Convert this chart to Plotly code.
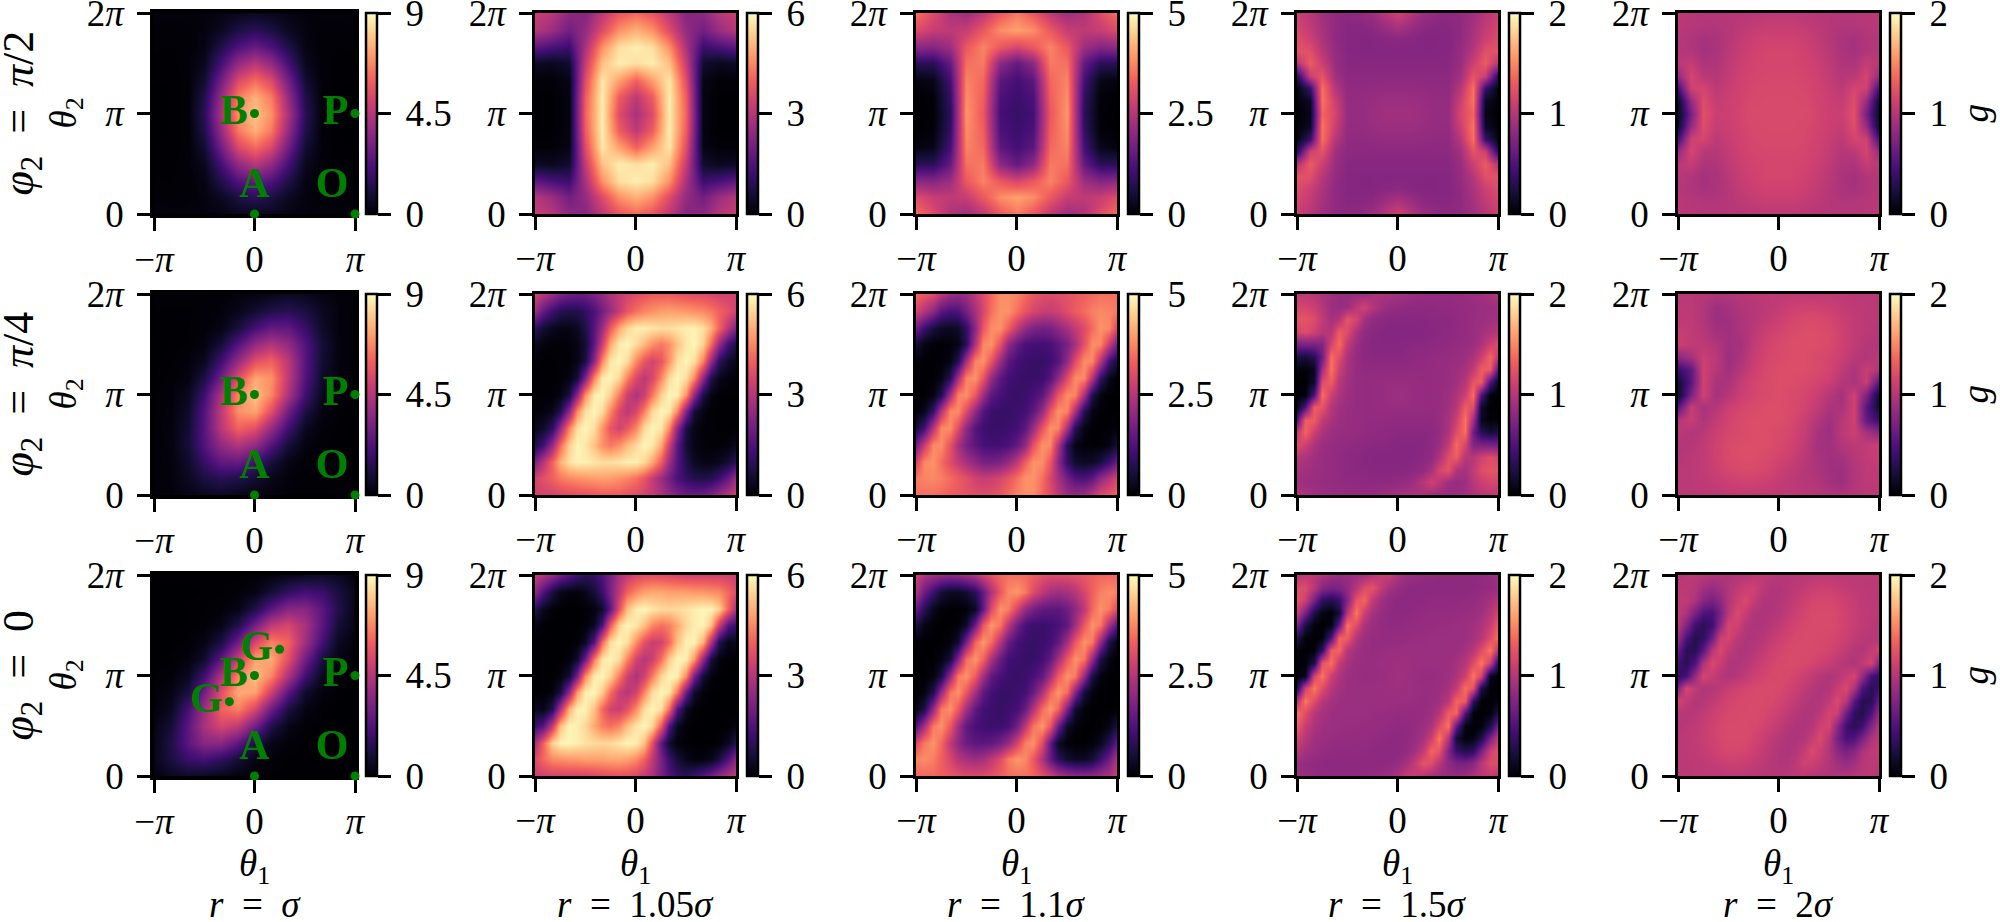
import math
import numpy as np
import plotly.graph_objects as go

W, H = 2000, 922
# z values; rows run top (theta2=2pi) to bottom (theta2=0)
R1C1 = [
[.15,.12,.12,.15,.25,.4,.5,.4,.25,.15,.12,.12,.15],
[.08,.06,.08,.18,.5,1.1,1.4,1.1,.5,.18,.08,.06,.08],
[.04,.03,.06,.25,1.2,2.2,2.8,2.2,1.2,.25,.06,.03,.04],
[.02,.02,.06,.45,2.0,3.7,4.5,3.7,2.0,.45,.06,.02,.02],
[.01,.01,.06,.8,3.0,5.3,6.2,5.3,3.0,.8,.06,.01,.01],
[0,.01,.07,1.2,3.8,6.5,7.5,6.5,3.8,1.2,.07,.01,0],
[0,.01,.07,1.4,4.2,6.9,7.9,6.9,4.2,1.4,.07,.01,0],
[0,.01,.07,1.2,3.8,6.5,7.5,6.5,3.8,1.2,.07,.01,0],
[.01,.01,.06,.8,3.0,5.3,6.2,5.3,3.0,.8,.06,.01,.01],
[.02,.02,.06,.45,2.0,3.7,4.5,3.7,2.0,.45,.06,.02,.02],
[.04,.03,.06,.25,1.2,2.2,2.8,2.2,1.2,.25,.06,.03,.04],
[.08,.06,.08,.18,.5,1.1,1.4,1.1,.5,.18,.08,.06,.08],
[.15,.12,.12,.15,.25,.4,.5,.4,.25,.15,.12,.12,.15]]
R2C1 = [
[.08,.06,.05,.05,.08,.15,.2,.35,.55,.45,.25,.12,.12],
[.03,.03,.03,.05,.12,.35,.8,1.2,1.4,1.05,.5,.15,.08],
[.02,.02,.03,.06,.25,1.0,2.0,2.7,2.6,1.7,.65,.15,.06],
[0,.01,.04,.18,.9,2.3,3.7,4.4,3.7,2.3,.9,.18,.06],
[0,.02,.11,.45,1.9,3.8,5.5,6.0,4.6,2.4,.8,.17,.04],
[0,.05,.2,1.1,3.0,5.5,7.3,6.9,4.7,2.3,.65,.14,.03],
[.02,.1,.45,1.9,4.3,6.7,7.8,6.7,4.3,1.9,.45,.1,.02],
[.03,.14,.65,2.3,4.7,6.9,7.3,5.5,3.0,1.1,.2,.05,0],
[.04,.17,.8,2.4,4.6,6.0,5.5,3.8,1.9,.45,.11,.02,0],
[.06,.18,.9,2.3,3.7,4.4,3.7,2.3,.9,.18,.04,.01,0],
[.06,.15,.65,1.7,2.6,2.7,2.0,1.0,.25,.06,.03,.02,.02],
[.08,.15,.5,1.05,1.4,1.2,.8,.35,.12,.05,.03,.03,.03],
[.12,.12,.25,.45,.55,.35,.2,.15,.08,.05,.05,.06,.08]]
R3C1 = [
[.02,.02,.02,.02,.02,.02,.05,.15,.35,.5,.65,.5,.15],
[0,0,0,.01,.03,.08,.25,.9,1.6,2.0,1.75,1.05,.35],
[0,0,.01,.03,.07,.3,1.2,2.5,3.5,3.5,2.5,1.2,.3],
[0,0,.01,.05,.3,1.2,3.0,4.7,5.2,4.2,2.5,.9,.25],
[0,0,.04,.25,1.05,2.9,5.2,6.6,6.0,4.0,2.0,.5,.1],
[0,.02,.15,.7,2.5,5.0,7.2,7.4,5.5,3.0,1.05,.25,.05],
[.02,.1,.45,1.9,4.3,6.7,7.8,6.7,4.3,1.9,.45,.1,.02],
[.05,.25,1.05,3.0,5.5,7.4,7.2,5.0,2.5,.7,.15,.02,0],
[.1,.5,2.0,4.0,6.0,6.6,5.2,2.9,1.05,.25,.04,0,0],
[.25,.9,2.5,4.2,5.2,4.7,3.0,1.2,.3,.05,.01,0,0],
[.3,1.2,2.5,3.5,3.5,2.5,1.2,.3,.07,.03,.01,0,0],
[.35,1.05,1.75,2.0,1.6,.9,.25,.08,.03,.01,0,0,0],
[.15,.5,.65,.5,.35,.15,.05,.02,.02,.02,.02,.02,.02]]
R1C2 = [
[3.3,3,2.4,2.3,3.1,3.8,4.1,3.8,3.1,2.3,2.4,3,3.3],
[3,2.6,2.0,2.5,3.6,4.6,5,4.6,3.6,2.5,2.0,2.6,3],
[1.7,1.4,1.2,2.8,4.6,5.6,5.8,5.6,4.6,2.8,1.2,1.4,1.7],
[.4,.3,.5,3.2,5.2,5.8,5.6,5.8,5.2,3.2,.5,.3,.4],
[.05,.05,.2,3.6,5.7,4.8,4.0,4.8,5.7,3.6,.2,.05,.05],
[0,0,.15,3.9,5.8,3.9,3.1,3.9,5.8,3.9,.15,0,0],
[0,0,.15,4.0,5.8,3.6,2.8,3.6,5.8,4.0,.15,0,0],
[0,0,.15,3.9,5.8,3.9,3.1,3.9,5.8,3.9,.15,0,0],
[.05,.05,.2,3.6,5.7,4.8,4.0,4.8,5.7,3.6,.2,.05,.05],
[.4,.3,.5,3.2,5.2,5.8,5.6,5.8,5.2,3.2,.5,.3,.4],
[1.7,1.4,1.2,2.8,4.6,5.6,5.8,5.6,4.6,2.8,1.2,1.4,1.7],
[3,2.6,2.0,2.5,3.6,4.6,5,4.6,3.6,2.5,2.0,2.6,3],
[3.3,3,2.4,2.3,3.1,3.8,4.1,3.8,3.1,2.3,2.4,3,3.3]]
R2C2 = [
[3.4,3.0,2.6,2.2,1.95,1.9,1.9,2.15,2.5,2.85,3.2,3.4,3.6,3.75,3.9,3.9,3.9,3.8,3.7,3.65,3.6,3.5,3.4,3.4,3.4],
[2.6,1.8,1.25,.9,.8,.85,1.05,1.45,2.0,2.6,3.2,3.8,4.2,4.45,4.6,4.75,4.8,4.75,4.7,4.6,4.5,4.3,4.0,3.7,3.4],
[1.0,.55,.3,.2,.2,.35,.8,1.6,2.6,3.9,4.9,5.5,5.8,5.8,5.7,5.6,5.6,5.7,5.8,5.85,5.6,5.0,4.0,3.0,2.2],
[.3,.1,.05,.05,.08,.2,.55,1.7,3.3,4.9,5.75,5.9,5.55,5.1,4.6,4.3,4.6,5.2,5.7,5.9,5.4,4.1,2.5,1.3,.75],
[.03,.01,.01,.03,.05,.2,.7,2.4,4.5,5.7,5.9,5.55,4.5,3.8,3.4,3.8,4.65,5.6,5.9,5.6,4.4,2.5,1.0,.45,.25],
[.01,.01,.02,.03,.15,.6,2.2,4.5,5.75,5.9,5.5,4.4,3.5,3.1,3.5,4.5,5.55,5.9,5.6,4.5,2.4,.8,.25,.1,.05],
[.02,.02,.02,.15,.7,2.4,4.6,5.8,5.9,5.4,4.3,3.3,2.9,3.3,4.3,5.4,5.9,5.8,4.6,2.4,.7,.15,.02,.02,.02],
[.05,.1,.25,.8,2.4,4.5,5.6,5.9,5.55,4.5,3.5,3.1,3.5,4.4,5.5,5.9,5.75,4.5,2.2,.6,.15,.03,.02,.01,.01],
[.25,.45,1.0,2.5,4.4,5.6,5.9,5.6,4.65,3.8,3.4,3.8,4.5,5.55,5.9,5.7,4.5,2.4,.7,.2,.05,.03,.01,.01,.03],
[.75,1.3,2.5,4.1,5.4,5.9,5.7,5.2,4.6,4.3,4.6,5.1,5.55,5.9,5.75,4.9,3.3,1.7,.55,.2,.08,.05,.05,.1,.3],
[2.2,3.0,4.0,5.0,5.6,5.85,5.8,5.7,5.6,5.6,5.7,5.8,5.8,5.5,4.9,3.9,2.6,1.6,.8,.35,.2,.2,.3,.55,1.0],
[3.4,3.7,4.0,4.3,4.5,4.6,4.7,4.75,4.8,4.75,4.6,4.45,4.2,3.8,3.2,2.6,2.0,1.45,1.05,.85,.8,.9,1.25,1.8,2.6],
[3.4,3.4,3.4,3.5,3.6,3.65,3.7,3.8,3.9,3.9,3.9,3.75,3.6,3.4,3.2,2.85,2.5,2.15,1.9,1.9,1.95,2.2,2.6,3.0,3.4]]
R3C2 = [
[3.2,2.9,2.5,2.0,1.6,1.2,1.0,1.1,1.5,2.1,2.8,3.2,3.5,3.65,3.7,3.65,3.6,3.5,3.4,3.4,3.4,3.4,3.4,3.35,3.3],
[2.4,1.5,.7,.25,.1,.1,.25,.6,1.2,2.1,3.1,4.0,4.5,4.8,4.9,4.9,4.8,4.8,4.8,4.7,4.7,4.6,4.5,4.1,3.6],
[.9,.3,.05,0,0,0,.02,.1,.5,1.7,3.7,5.2,5.8,5.9,5.7,5.55,5.5,5.55,5.65,5.8,5.9,5.85,5.4,4.0,2.8],
[.15,.02,0,0,0,0,.04,.3,1.45,3.85,5.5,5.9,5.7,5.2,4.5,4.2,4.4,4.9,5.5,5.8,5.9,5.2,3.2,1.6,1.2],
[.02,0,0,0,0,.05,.35,1.6,4.1,5.6,5.9,5.6,4.55,3.7,3.3,3.4,4.1,5.2,5.85,5.85,5.0,2.85,.85,.2,.3],
[0,0,0,0,.06,.45,1.9,4.3,5.7,5.9,5.55,4.45,3.4,3.0,3.3,4.2,5.35,5.9,5.8,4.7,2.45,.65,.1,.01,0],
[0,0,0,.1,.55,2.1,4.5,5.8,5.9,5.45,4.35,3.35,2.85,3.35,4.35,5.45,5.9,5.8,4.5,2.1,.55,.1,0,0,0],
[0,.01,.1,.65,2.45,4.7,5.8,5.9,5.35,4.2,3.3,3.0,3.4,4.45,5.55,5.9,5.7,4.3,1.9,.45,.06,0,0,0,0],
[.3,.2,.85,2.85,5.0,5.85,5.85,5.2,4.1,3.4,3.3,3.7,4.55,5.6,5.9,5.6,4.1,1.6,.35,.05,0,0,0,0,.02],
[1.2,1.6,3.2,5.2,5.9,5.8,5.5,4.9,4.4,4.2,4.5,5.2,5.7,5.9,5.5,3.85,1.45,.3,.04,0,0,0,0,.02,.15],
[2.8,4.0,5.4,5.85,5.9,5.8,5.65,5.55,5.5,5.55,5.7,5.9,5.8,5.2,3.7,1.7,.5,.1,.02,0,0,0,.05,.3,.9],
[3.6,4.1,4.5,4.6,4.7,4.7,4.8,4.8,4.8,4.9,4.9,4.8,4.5,4.0,3.1,2.1,1.2,.6,.25,.1,.1,.25,.7,1.5,2.4],
[3.3,3.35,3.4,3.4,3.4,3.4,3.4,3.5,3.6,3.65,3.7,3.65,3.5,3.2,2.8,2.1,1.5,1.1,1.0,1.2,1.6,2.0,2.5,2.9,3.2]]
R1C3 = [
[3.5,3.0,2.4,2.2,2.6,3.2,3.6,3.2,2.6,2.2,2.4,3.0,3.5],
[3.0,2.7,2.6,2.7,3.2,3.8,4.0,3.8,3.2,2.7,2.6,2.7,3.0],
[2.0,1.9,2.2,3.2,3.7,3.2,2.9,3.2,3.7,3.2,2.2,1.9,2.0],
[.8,.8,1.5,3.5,3.6,2.0,1.5,2.0,3.6,3.5,1.5,.8,.8],
[.1,.2,1.1,3.7,3.4,1.4,1.1,1.4,3.4,3.7,1.1,.2,.1],
[0,.05,.9,3.8,3.3,1.2,1.0,1.2,3.3,3.8,.9,.05,0],
[0,.02,.8,3.9,3.2,1.1,.95,1.1,3.2,3.9,.8,.02,0],
[0,.05,.9,3.8,3.3,1.2,1.0,1.2,3.3,3.8,.9,.05,0],
[.1,.2,1.1,3.7,3.4,1.4,1.1,1.4,3.4,3.7,1.1,.2,.1],
[.8,.8,1.5,3.5,3.6,2.0,1.5,2.0,3.6,3.5,1.5,.8,.8],
[2.0,1.9,2.2,3.2,3.7,3.2,2.9,3.2,3.7,3.2,2.2,1.9,2.0],
[3.0,2.7,2.6,2.7,3.2,3.8,4.0,3.8,3.2,2.7,2.6,2.7,3.0],
[3.5,3.0,2.4,2.2,2.6,3.2,3.6,3.2,2.6,2.2,2.4,3.0,3.5]]
R2C3 = [
[3.4,3.2,3.0,2.55,2.2,2.1,2.2,2.6,3.0,3.4,3.8,3.8,3.7,3.45,3.2,3.05,3.0,3.05,3.1,3.2,3.3,3.4,3.5,3.5,3.5],
[2.9,2.45,2.0,1.4,1.2,1.25,1.7,2.3,2.9,3.5,3.85,3.85,3.5,3.15,2.9,2.75,2.7,2.8,3.05,3.25,3.45,3.65,3.75,3.7,3.6],
[1.6,1.0,.55,.35,.3,.4,.9,2.0,3.2,3.8,3.85,3.3,2.6,2.1,1.8,1.7,1.75,2.0,2.3,2.65,3.0,3.45,3.85,3.75,2.9],
[.5,.15,.03,.01,.05,.15,.8,2.4,3.75,3.85,3.1,2.05,1.5,1.2,1.1,1.1,1.15,1.4,1.75,2.3,3.1,3.8,3.75,2.7,1.7],
[.08,.02,0,.02,.15,.75,2.3,3.7,3.85,3.15,2.15,1.4,1.1,1.0,.95,.95,1.05,1.3,2.05,3.0,3.8,3.75,2.5,1.1,.5],
[0,0,.02,.15,.75,2.3,3.7,3.85,3.15,2.1,1.4,1.1,1.0,.95,.95,1.0,1.3,2.05,3.0,3.8,3.75,2.45,.95,.2,.03],
[0,0,.12,.7,2.3,3.7,3.8,3.2,2.2,1.4,1.15,1.0,.95,1.0,1.15,1.4,2.2,3.2,3.8,3.7,2.3,.7,.12,0,0],
[.03,.2,.95,2.45,3.75,3.8,3.0,2.05,1.3,1.0,.95,.95,1.0,1.1,1.4,2.1,3.15,3.85,3.7,2.3,.75,.15,.02,0,0],
[.5,1.1,2.5,3.75,3.8,3.0,2.05,1.3,1.05,.95,.95,1.0,1.1,1.4,2.15,3.15,3.85,3.7,2.3,.75,.15,.02,0,.02,.08],
[1.7,2.7,3.75,3.8,3.1,2.3,1.75,1.4,1.15,1.1,1.1,1.2,1.5,2.05,3.1,3.85,3.75,2.4,.8,.15,.05,.01,.03,.15,.5],
[2.9,3.75,3.85,3.45,3.0,2.65,2.3,2.0,1.75,1.7,1.8,2.1,2.6,3.3,3.85,3.8,3.2,2.0,.9,.4,.3,.35,.55,1.0,1.6],
[3.6,3.7,3.75,3.65,3.45,3.25,3.05,2.8,2.7,2.75,2.9,3.15,3.5,3.85,3.85,3.5,2.9,2.3,1.7,1.25,1.2,1.4,2.0,2.45,2.9],
[3.5,3.5,3.5,3.4,3.3,3.2,3.1,3.05,3.0,3.05,3.2,3.45,3.7,3.8,3.8,3.4,3.0,2.6,2.2,2.1,2.2,2.55,3.0,3.2,3.4]]
R3C3 = [
[2.8,2.4,2.2,2.05,2.0,2.05,2.2,2.4,2.8,3.1,3.4,3.5,3.5,3.45,3.3,3.1,3.0,3.0,3.0,3.1,3.2,3.3,3.4,3.4,3.4],
[2.4,1.6,1.0,.5,.3,.3,.45,.8,1.5,2.4,3.2,3.75,3.9,3.6,3.0,2.6,2.3,2.2,2.3,2.5,2.9,3.3,3.65,3.8,3.7],
[1.5,.75,.25,.04,0,0,.05,.3,1.5,3.0,3.85,3.65,2.85,2.1,1.7,1.45,1.4,1.4,1.6,2.0,2.6,3.4,3.85,3.6,3.0],
[.6,.15,.02,0,0,.07,.35,1.6,3.2,3.9,3.55,2.55,1.65,1.15,1.0,1.0,1.05,1.15,1.45,2.25,3.2,3.85,3.6,2.3,1.3],
[.02,0,0,0,.08,.42,1.75,3.35,3.9,3.45,2.45,1.55,1.12,1.0,.95,1.0,1.1,1.45,2.25,3.2,3.85,3.6,2.1,.65,.15],
[0,0,0,.1,.5,1.9,3.45,3.9,3.35,2.35,1.55,1.1,1.0,.95,.95,1.1,1.45,2.3,3.2,3.85,3.55,2.1,.65,.12,0],
[0,0,.1,.6,2.1,3.6,3.85,3.25,2.25,1.45,1.15,1.0,.95,1.0,1.15,1.45,2.25,3.25,3.85,3.6,2.1,.6,.1,0,0],
[0,.12,.65,2.1,3.55,3.85,3.2,2.3,1.45,1.1,.95,.95,1.0,1.1,1.55,2.35,3.35,3.9,3.45,1.9,.5,.1,0,0,0],
[.15,.65,2.1,3.6,3.85,3.2,2.25,1.45,1.1,1.0,.95,1.0,1.12,1.55,2.45,3.45,3.9,3.35,1.75,.42,.08,0,0,0,.02],
[1.3,2.3,3.6,3.85,3.2,2.25,1.45,1.15,1.05,1.0,1.0,1.15,1.65,2.55,3.55,3.9,3.2,1.6,.35,.07,0,0,.02,.15,.6],
[3.0,3.6,3.85,3.4,2.6,2.0,1.6,1.4,1.4,1.45,1.7,2.1,2.85,3.65,3.85,3.0,1.5,.3,.05,0,0,.04,.25,.75,1.5],
[3.7,3.8,3.65,3.3,2.9,2.5,2.3,2.2,2.3,2.6,3.0,3.6,3.9,3.75,3.2,2.4,1.5,.8,.45,.3,.3,.5,1.0,1.6,2.4],
[3.4,3.4,3.4,3.3,3.2,3.1,3.0,3.0,3.0,3.1,3.3,3.45,3.5,3.5,3.4,3.1,2.8,2.4,2.2,2.05,2.0,2.05,2.2,2.4,2.8]]
R1C4 = [
[1.1,1.0,.9,.82,.8,.82,.88,1.0,1.12,1.0,.88,.82,.8,.82,.9,1.0,1.1],
[1.15,1.05,.92,.82,.78,.78,.8,.88,.95,.88,.8,.78,.78,.82,.92,1.05,1.15],
[1.2,1.1,.95,.82,.76,.76,.76,.78,.8,.78,.76,.76,.76,.82,.95,1.1,1.2],
[1.25,1.22,1.0,.84,.77,.76,.76,.76,.76,.76,.76,.76,.77,.84,1.0,1.22,1.25],
[1.0,1.3,1.1,.86,.78,.78,.78,.78,.78,.78,.78,.78,.78,.86,1.1,1.3,1.0],
[.3,1.1,1.25,.9,.8,.8,.8,.8,.8,.8,.8,.8,.8,.9,1.25,1.1,.3],
[.05,.4,1.4,1.0,.82,.82,.83,.84,.84,.84,.83,.82,.82,1.0,1.4,.4,.05],
[.02,.12,1.42,1.1,.84,.84,.86,.88,.88,.88,.86,.84,.84,1.1,1.42,.12,.02],
[0,.08,1.35,1.15,.85,.85,.87,.9,.9,.9,.87,.85,.85,1.15,1.35,.08,0],
[.02,.12,1.42,1.1,.84,.84,.86,.88,.88,.88,.86,.84,.84,1.1,1.42,.12,.02],
[.05,.4,1.4,1.0,.82,.82,.83,.84,.84,.84,.83,.82,.82,1.0,1.4,.4,.05],
[.3,1.1,1.25,.9,.8,.8,.8,.8,.8,.8,.8,.8,.8,.9,1.25,1.1,.3],
[1.0,1.3,1.1,.86,.78,.78,.78,.78,.78,.78,.78,.78,.78,.86,1.1,1.3,1.0],
[1.25,1.22,1.0,.84,.77,.76,.76,.76,.76,.76,.76,.76,.77,.84,1.0,1.22,1.25],
[1.2,1.1,.95,.82,.76,.76,.76,.78,.8,.78,.76,.76,.76,.82,.95,1.1,1.2],
[1.15,1.05,.92,.82,.78,.78,.8,.88,.95,.88,.8,.78,.78,.82,.92,1.05,1.15],
[1.1,1.0,.9,.82,.8,.82,.88,1.0,1.12,1.0,.88,.82,.8,.82,.9,1.0,1.1]]
R2C4 = [
[1.05,1.03,1.0,.95,.9,.86,.85,.86,.89,.93,.95,.94,.92,.9,.87,.85,.84,.84,.84,.85,.86,.88,.9,.94,.98],
[1.15,1.15,1.1,1.0,.88,.85,.88,1.02,1.12,1.0,.9,.85,.83,.81,.81,.81,.81,.82,.82,.83,.84,.85,.87,.88,.9],
[1.25,1.25,1.2,1.05,.92,.98,1.25,1.15,.92,.83,.8,.78,.78,.78,.78,.78,.79,.79,.8,.82,.84,.86,.88,.9,.92],
[1.15,1.2,1.12,1.0,1.0,1.3,1.2,.95,.82,.79,.77,.76,.76,.76,.76,.77,.78,.79,.8,.82,.84,.86,.9,.96,1.0],
[.7,.72,.72,.75,1.15,1.38,1.05,.87,.8,.78,.77,.77,.77,.78,.79,.79,.8,.81,.82,.84,.85,.87,.95,1.1,1.2],
[.25,.2,.3,.65,1.4,1.2,.95,.84,.8,.79,.79,.79,.79,.8,.81,.82,.83,.84,.85,.86,.88,.95,1.1,1.35,1.05],
[.04,.02,.1,.9,1.42,1.1,.93,.85,.82,.82,.82,.82,.82,.82,.83,.83,.84,.85,.86,.88,.93,1.05,1.3,1.3,.55],
[0,0,.15,1.2,1.3,1.0,.9,.85,.84,.84,.85,.86,.86,.86,.85,.84,.84,.85,.86,.9,1.0,1.25,1.3,.5,.1],
[0,.02,.5,1.4,1.1,.95,.88,.85,.84,.84,.85,.87,.88,.87,.85,.84,.84,.85,.88,.95,1.1,1.4,.5,.02,0],
[.1,.5,1.3,1.25,1.0,.9,.86,.85,.84,.84,.85,.86,.86,.86,.85,.84,.84,.85,.9,1.0,1.3,1.2,.15,0,0],
[.55,1.3,1.3,1.05,.93,.88,.86,.85,.84,.83,.83,.82,.82,.82,.82,.82,.82,.85,.93,1.1,1.42,.9,.1,.02,.04],
[1.05,1.35,1.1,.95,.88,.86,.85,.84,.83,.82,.81,.8,.79,.79,.79,.79,.8,.84,.95,1.2,1.4,.65,.3,.2,.25],
[1.2,1.1,.95,.87,.85,.84,.82,.81,.8,.79,.79,.78,.77,.77,.77,.78,.8,.87,1.05,1.38,1.15,.75,.72,.72,.7],
[1.0,.96,.9,.86,.84,.82,.8,.79,.78,.77,.76,.76,.76,.76,.77,.79,.82,.95,1.2,1.3,1.0,1.0,1.12,1.2,1.15],
[.92,.9,.88,.86,.84,.82,.8,.79,.79,.78,.78,.78,.78,.78,.8,.83,.92,1.15,1.25,.98,.92,1.05,1.2,1.25,1.25],
[.9,.88,.87,.85,.84,.83,.82,.82,.81,.81,.81,.81,.83,.85,.9,1.0,1.12,1.02,.88,.85,.88,1.0,1.1,1.15,1.15],
[.98,.94,.9,.88,.86,.85,.84,.84,.84,.85,.87,.9,.92,.94,.95,.93,.89,.86,.85,.86,.9,.95,1.0,1.03,1.05]]
R3C4 = [
[1.0,1.05,1.02,.95,.88,.85,.86,.88,.92,1.0,1.08,1.08,.95,.88,.86,.84,.83,.82,.82,.82,.82,.82,.83,.86,.9],
[1.2,1.2,1.0,.78,.7,.72,.82,1.0,1.2,1.25,1.05,.92,.85,.81,.8,.8,.8,.8,.8,.8,.8,.81,.82,.84,.87],
[1.25,1.1,.7,.35,.28,.4,.75,1.25,1.35,1.05,.9,.83,.8,.8,.8,.81,.82,.82,.82,.82,.83,.84,.87,.92,1.0],
[1.05,.7,.25,.05,.02,.2,1.0,1.44,1.1,.92,.85,.82,.8,.81,.82,.83,.84,.84,.84,.85,.86,.87,.9,1.0,1.15],
[.7,.25,.03,0,.05,.6,1.42,1.2,.95,.87,.84,.82,.82,.83,.84,.85,.85,.86,.86,.87,.88,.9,.96,1.08,1.3],
[.25,.03,0,.03,.5,1.35,1.3,.98,.88,.85,.84,.84,.84,.85,.86,.86,.87,.87,.87,.87,.88,.92,1.0,1.2,1.42],
[.05,0,.02,.35,1.3,1.35,1.0,.9,.86,.85,.86,.87,.87,.88,.88,.87,.87,.87,.87,.88,.92,1.0,1.2,1.44,1.0],
[.01,.02,.25,1.25,1.4,1.05,.92,.87,.86,.86,.87,.88,.89,.89,.88,.87,.87,.87,.88,.92,1.0,1.2,1.44,1.1,.3],
[.02,.08,1.15,1.43,1.1,.95,.88,.86,.85,.85,.86,.88,.9,.88,.86,.85,.85,.86,.88,.95,1.1,1.43,1.15,.08,.02],
[.3,1.1,1.44,1.2,1.0,.92,.88,.87,.87,.87,.88,.89,.89,.88,.87,.86,.86,.87,.92,1.05,1.4,1.25,.25,.02,.01],
[1.0,1.44,1.2,1.0,.92,.88,.87,.87,.87,.87,.88,.88,.87,.87,.86,.85,.86,.9,1.0,1.35,1.3,.35,.02,0,.05],
[1.42,1.2,1.0,.92,.88,.87,.87,.87,.87,.86,.86,.85,.84,.84,.84,.85,.88,.98,1.3,1.35,.5,.03,0,.03,.25],
[1.3,1.08,.96,.9,.88,.87,.86,.86,.85,.85,.84,.83,.82,.82,.84,.87,.95,1.2,1.42,.6,.05,0,.03,.25,.7],
[1.15,1.0,.9,.87,.86,.85,.84,.84,.84,.83,.82,.81,.8,.82,.85,.92,1.1,1.44,1.0,.2,.02,.05,.25,.7,1.05],
[1.0,.92,.87,.84,.83,.82,.82,.82,.82,.81,.8,.8,.8,.83,.9,1.05,1.35,1.25,.75,.4,.28,.35,.7,1.1,1.25],
[.87,.84,.82,.81,.8,.8,.8,.8,.8,.8,.8,.81,.85,.92,1.05,1.25,1.2,1.0,.82,.72,.7,.78,1.0,1.2,1.2],
[.9,.86,.83,.82,.82,.82,.82,.82,.83,.84,.86,.88,.95,1.08,1.08,1.0,.92,.88,.86,.85,.88,.95,1.02,1.05,1.0]]
R1C5 = [
[1.02,1.01,1.0,1.0,1.0,1.01,1.02,1.03,1.03,1.03,1.02,1.01,1.0,1.0,1.0,1.01,1.02],
[1.02,1.0,.98,.98,1.0,1.03,1.06,1.08,1.08,1.08,1.06,1.03,1.0,.98,.98,1.0,1.02],
[1.0,.97,.93,.95,1.0,1.06,1.1,1.12,1.12,1.12,1.1,1.06,1.0,.95,.93,.97,1.0],
[1.0,.98,.92,.95,1.02,1.08,1.12,1.15,1.15,1.15,1.12,1.08,1.02,.95,.92,.98,1.0],
[1.02,1.07,.96,.97,1.04,1.1,1.14,1.15,1.15,1.15,1.14,1.1,1.04,.97,.96,1.07,1.02],
[.85,1.15,1.02,1.0,1.06,1.12,1.15,1.16,1.16,1.16,1.15,1.12,1.06,1.0,1.02,1.15,.85],
[.45,1.12,1.15,1.03,1.08,1.13,1.16,1.17,1.17,1.17,1.16,1.13,1.08,1.03,1.15,1.12,.45],
[.15,.85,1.2,1.07,1.1,1.14,1.17,1.18,1.18,1.18,1.17,1.14,1.1,1.07,1.2,.85,.15],
[.1,.7,1.22,1.1,1.1,1.15,1.18,1.18,1.18,1.18,1.18,1.15,1.1,1.1,1.22,.7,.1],
[.15,.85,1.2,1.07,1.1,1.14,1.17,1.18,1.18,1.18,1.17,1.14,1.1,1.07,1.2,.85,.15],
[.45,1.12,1.15,1.03,1.08,1.13,1.16,1.17,1.17,1.17,1.16,1.13,1.08,1.03,1.15,1.12,.45],
[.85,1.15,1.02,1.0,1.06,1.12,1.15,1.16,1.16,1.16,1.15,1.12,1.06,1.0,1.02,1.15,.85],
[1.02,1.07,.96,.97,1.04,1.1,1.14,1.15,1.15,1.15,1.14,1.1,1.04,.97,.96,1.07,1.02],
[1.0,.98,.92,.95,1.02,1.08,1.12,1.15,1.15,1.15,1.12,1.08,1.02,.95,.92,.98,1.0],
[1.0,.97,.93,.95,1.0,1.06,1.1,1.12,1.12,1.12,1.1,1.06,1.0,.95,.93,.97,1.0],
[1.02,1.0,.98,.98,1.0,1.03,1.06,1.08,1.08,1.08,1.06,1.03,1.0,.98,.98,1.0,1.02],
[1.02,1.01,1.0,1.0,1.0,1.01,1.02,1.03,1.03,1.03,1.02,1.01,1.0,1.0,1.0,1.01,1.02]]
R2C5 = [
[1.02,1.02,1.0,.98,.98,1.0,1.02,1.04,1.04,1.05,1.05,1.05,1.05,1.03,1.02,1.02,1.02],
[1.03,1.03,.98,.88,.92,.98,1.0,1.03,1.06,1.1,1.12,1.12,1.1,1.07,1.04,1.03,1.02],
[1.04,1.04,.98,.88,.9,.96,1.0,1.05,1.1,1.15,1.18,1.18,1.15,1.1,1.05,1.02,1.02],
[1.08,1.05,1.0,.92,.9,.95,1.02,1.1,1.14,1.18,1.2,1.2,1.18,1.12,1.05,1.02,1.0],
[1.1,1.05,1.03,.98,.9,.93,1.05,1.13,1.17,1.2,1.2,1.2,1.18,1.12,1.05,1.0,.98],
[.8,.92,1.1,1.02,.88,.95,1.08,1.15,1.18,1.2,1.2,1.18,1.15,1.1,1.02,.98,1.03],
[.4,.6,1.12,1.0,.9,1.0,1.1,1.17,1.2,1.2,1.2,1.18,1.14,1.06,.96,1.08,1.0],
[.18,.55,1.12,.94,.95,1.07,1.14,1.18,1.2,1.2,1.18,1.15,1.1,1.0,.94,1.08,.55],
[.15,.72,1.12,.92,1.0,1.1,1.15,1.18,1.2,1.18,1.15,1.1,1.0,.92,1.12,.72,.15],
[.55,1.08,.94,1.0,1.1,1.15,1.18,1.2,1.2,1.18,1.14,1.07,.95,.94,1.12,.55,.18],
[1.0,1.08,.96,1.06,1.14,1.18,1.2,1.2,1.2,1.17,1.1,1.0,.9,1.0,1.12,.6,.4],
[1.03,.98,1.02,1.1,1.15,1.18,1.2,1.2,1.18,1.15,1.08,.95,.88,1.02,1.1,.92,.8],
[.98,1.0,1.05,1.12,1.18,1.2,1.2,1.2,1.17,1.13,1.05,.93,.9,.98,1.03,1.05,1.1],
[1.0,1.02,1.05,1.12,1.18,1.2,1.2,1.18,1.14,1.1,1.02,.95,.9,.92,1.0,1.05,1.08],
[1.02,1.02,1.05,1.1,1.15,1.18,1.18,1.15,1.1,1.05,1.0,.96,.9,.88,.98,1.04,1.04],
[1.02,1.03,1.04,1.07,1.1,1.12,1.12,1.1,1.06,1.03,1.0,.98,.92,.88,.98,1.03,1.03],
[1.02,1.02,1.02,1.03,1.05,1.05,1.05,1.05,1.04,1.04,1.02,1.0,.98,.98,1.0,1.02,1.02]]
R3C5 = [
[1.0,1.02,1.02,1.0,.98,.97,.97,.98,1.0,1.02,1.03,1.02,1.0,1.0,1.01,1.02,1.03,1.03,1.03,1.03,1.03,1.03,1.03,1.03,1.03],
[1.03,1.03,1.0,.9,.85,.9,.98,1.05,1.1,1.12,1.03,.98,.98,1.0,1.03,1.06,1.09,1.1,1.1,1.08,1.06,1.04,1.03,1.02,1.02],
[1.05,1.04,.95,.78,.7,.8,.98,1.1,1.18,1.08,.98,.97,.98,1.02,1.06,1.11,1.15,1.16,1.16,1.14,1.1,1.07,1.04,1.03,1.02],
[1.05,.95,.7,.5,.47,.7,1.0,1.18,1.08,.98,.96,.97,1.0,1.05,1.1,1.14,1.18,1.18,1.18,1.16,1.12,1.08,1.05,1.03,1.02],
[1.0,.75,.42,.32,.42,.8,1.15,1.12,1.0,.97,.97,1.0,1.05,1.1,1.14,1.17,1.18,1.18,1.18,1.16,1.12,1.08,1.04,1.02,1.0],
[.85,.48,.28,.35,.65,1.1,1.15,1.02,.97,.97,1.0,1.05,1.1,1.14,1.17,1.18,1.18,1.17,1.16,1.14,1.1,1.05,1.02,1.0,1.0],
[.62,.32,.3,.55,1.0,1.18,1.05,.98,.97,1.0,1.05,1.1,1.14,1.17,1.18,1.18,1.17,1.16,1.14,1.1,1.05,1.0,.98,1.05,1.15],
[.42,.32,.5,.95,1.18,1.08,.98,.97,1.0,1.05,1.1,1.14,1.17,1.18,1.18,1.17,1.15,1.12,1.08,1.03,.99,.97,1.05,1.15,.75],
[.35,.45,.85,1.15,1.08,1.0,.97,1.0,1.05,1.1,1.14,1.17,1.18,1.17,1.14,1.1,1.05,1.0,.97,1.0,1.08,1.15,.85,.45,.35],
[.75,1.15,1.05,.97,.99,1.03,1.08,1.12,1.15,1.17,1.18,1.18,1.17,1.14,1.1,1.05,1.0,.97,.98,1.08,1.18,.95,.5,.32,.42],
[1.15,1.05,.98,1.0,1.05,1.1,1.14,1.16,1.17,1.18,1.18,1.17,1.14,1.1,1.05,1.0,.97,.98,1.05,1.18,1.0,.55,.3,.32,.62],
[1.0,1.0,1.02,1.05,1.1,1.14,1.16,1.17,1.18,1.18,1.17,1.14,1.1,1.05,1.0,.97,.97,1.02,1.15,1.1,.65,.35,.28,.48,.85],
[1.0,1.02,1.04,1.08,1.12,1.16,1.18,1.18,1.18,1.17,1.14,1.1,1.05,1.0,.97,.97,1.0,1.12,1.15,.8,.42,.32,.42,.75,1.0],
[1.02,1.03,1.05,1.08,1.12,1.16,1.18,1.18,1.18,1.14,1.1,1.05,1.0,.97,.96,.98,1.08,1.18,1.0,.7,.47,.5,.7,.95,1.05],
[1.02,1.03,1.04,1.07,1.1,1.14,1.16,1.16,1.15,1.11,1.06,1.02,.98,.97,.98,1.08,1.18,1.1,.98,.8,.7,.78,.95,1.04,1.05],
[1.02,1.02,1.03,1.04,1.06,1.08,1.1,1.1,1.09,1.06,1.03,1.0,.98,.98,1.03,1.12,1.1,1.05,.98,.9,.85,.9,1.0,1.03,1.03],
[1.03,1.03,1.03,1.03,1.03,1.03,1.03,1.03,1.03,1.02,1.01,1.0,1.0,1.02,1.03,1.02,1.0,.98,.97,.97,.98,1.0,1.02,1.02,1.0]]

PANELS = [[R1C1, R1C2, R1C3, R1C4, R1C5],
          [R2C1, R2C2, R2C3, R2C4, R2C5],
          [R3C1, R3C2, R3C3, R3C4, R3C5]]
ZMAX = [9, 6, 5, 2, 2]
CB_TICKS = [["0", "4.5", "9"], ["0", "3", "6"], ["0", "2.5", "5"], ["0", "1", "2"], ["0", "1", "2"]]
ROW_LABELS = ["<i>φ</i><sub>2</sub>\u2002=\u2002<i>π</i>/2", "<i>φ</i><sub>2</sub>\u2002=\u2002<i>π</i>/4", "<i>φ</i><sub>2</sub>\u2002=\u20020"]
COL_LABELS = ["<i>r</i>\u2002=\u2002<i>σ</i>", "<i>r</i>\u2002=\u20021.05<i>σ</i>", "<i>r</i>\u2002=\u20021.1<i>σ</i>", "<i>r</i>\u2002=\u20021.5<i>σ</i>", "<i>r</i>\u2002=\u20022<i>σ</i>"]
POINT_NAMES = ["A", "O", "P", "B"]
POINT_X = [0, math.pi, math.pi, 0]
POINT_Y = [0, 0, math.pi, math.pi]
POINT_POS = ["top center", "top left", "middle left", "middle left"]
G_X = [0.25 * math.pi, -0.25 * math.pi]
G_Y = [1.26 * math.pi, 0.74 * math.pi]

FONT = "Liberation Serif"
FS = 37
PX0 = [154, 535, 916, 1297, 1678]
PW = 201
PY0 = [13, 294, 575]
PH = 201
CB_DX = 212
CB_W = 11
fx = lambda p: p / W
fy = lambda p: 1 - p / H

fig = go.Figure()
anns = []
layout = {}
n = 0
for r in range(3):
    for c in range(5):
        n += 1
        xn, yn = f"x{n}", f"y{n}"
        z = np.array(PANELS[r][c], dtype=float)[::-1]
        rows, cols = z.shape
        xs = np.linspace(-math.pi, math.pi, cols)
        ys = np.linspace(0, 2 * math.pi, rows)
        zm = ZMAX[c]
        fig.add_trace(go.Heatmap(
            x=xs, y=ys, z=z, xaxis=xn, yaxis=yn, zmin=0, zmax=zm, zsmooth="best",
            colorscale="Magma", hoverinfo="skip",
            colorbar=dict(
                x=fx(PX0[c] + CB_DX), xanchor="left", y=fy(PY0[r] + PH / 2), yanchor="middle",
                lenmode="pixels", len=PH, thicknessmode="pixels", thickness=CB_W, xpad=0, ypad=0,
                outlinecolor="black", outlinewidth=2.5, tickmode="array",
                tickvals=[0, zm / 2, zm], ticktext=["\u2009" + t for t in CB_TICKS[c]],
                ticks="outside", ticklen=13, tickwidth=3, tickcolor="black", ticklabeloverflow="allow",
                tickfont=dict(family=FONT, size=FS, color="black")),
        ))
        axc = dict(showgrid=False, zeroline=False, showline=True, mirror=True, linecolor="black",
                   linewidth=3.5 if c == 0 else 2.5, layer="below traces" if c == 0 else "above traces",
                   ticks="outside", ticklen=13, tickwidth=2.5, tickcolor="black",
                   ticklabeloverflow="allow",
                   tickfont=dict(family=FONT, size=FS, color="black"), tickmode="array")
        layout[f"xaxis{n}"] = dict(axc, domain=[fx(PX0[c]), fx(PX0[c] + PW)], range=[-math.pi, math.pi],
                                   anchor=yn, tickvals=[-math.pi, 0, math.pi],
                                   ticktext=["−<i>π</i>", "0", "<i>π</i>"], ticklabelstandoff=-3)
        layout[f"yaxis{n}"] = dict(axc, domain=[fy(PY0[r] + PH), fy(PY0[r])], range=[0, 2 * math.pi],
                                   anchor=xn, tickvals=[0, math.pi, 2 * math.pi],
                                   ticktext=["0", "<i>π</i>", "2<i>π</i>"], ticklabelstandoff=6)
        if c == 0:
            px_ = list(POINT_X)
            py_ = list(POINT_Y)
            names = list(POINT_NAMES)
            pos = list(POINT_POS)
            if r == 2:
                px_ += G_X
                py_ += G_Y
                names += ["G", "G"]
                pos += ["middle left", "middle left"]
            fig.add_trace(go.Scatter(
                x=px_, y=py_, text=[f"<b>{t}</b>" for t in names], textposition=pos, mode="markers+text",
                xaxis=xn, yaxis=yn, cliponaxis=False, hoverinfo="skip", showlegend=False,
                marker=dict(color="green", size=9),
                textfont=dict(family=FONT, size=42, color="green")))
    cy = PY0[r] + PH / 2
    anns.append(dict(x=fx(21), y=fy(cy), text=ROW_LABELS[r], textangle=-90, font=dict(family=FONT, size=44, color="black")))
    anns.append(dict(x=fx(66), y=fy(cy), text="<i>θ</i><sub>2</sub>", textangle=-90, font=dict(family=FONT, size=FS, color="black")))
    anns.append(dict(x=fx(1975), y=fy(cy), text="<i>g</i>", textangle=-90, font=dict(family=FONT, size=FS, color="black")))
for c in range(5):
    cx = PX0[c] + PW / 2
    anns.append(dict(x=fx(cx), y=fy(866), text="<i>θ</i><sub>1</sub>", font=dict(family=FONT, size=FS, color="black")))
    anns.append(dict(x=fx(cx), y=fy(904), text=COL_LABELS[c], font=dict(family=FONT, size=FS, color="black")))
for a in anns:
    a.update(xref="paper", yref="paper", xanchor="center", yanchor="middle", showarrow=False)

fig.update_layout(width=W, height=H, margin=dict(l=0, r=0, t=0, b=0, autoexpand=False), paper_bgcolor="white",
                  plot_bgcolor="white", showlegend=False, annotations=anns, **layout)
fig.write_html("out.html", config={"displayModeBar": False},
               post_script="document.body.style.margin='0';document.body.style.overflow='hidden';")
